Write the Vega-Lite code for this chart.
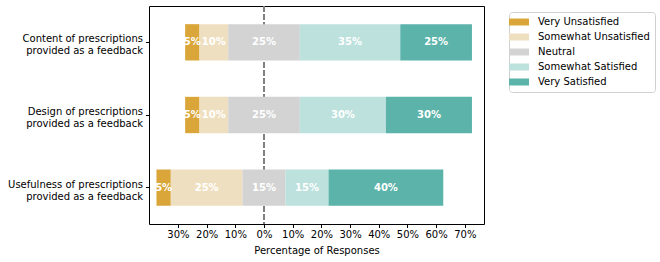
{
  "$schema": "https://vega.github.io/schema/vega-lite/v6.json",
  "width": 335,
  "height": 218,
  "autosize": {"type": "none"},
  "padding": {"left": 149, "top": 6, "right": 176, "bottom": 38},
  "config": {
    "font": "DejaVu Sans",
    "view": {"stroke": "#000", "strokeWidth": 1},
    "axis": {"labelFont": "DejaVu Sans", "titleFont": "DejaVu Sans", "labelFontSize": 10, "titleFontSize": 10, "labelColor": "#000", "titleColor": "#000", "tickColor": "#000", "domain": false, "grid": false, "tickSize": 3.5, "titleFontWeight": "normal", "labelOverlap": false}
  },
  "data": {
    "values": [
      {"question": "Content of prescriptions\nprovided as a feedback", "response": "Very Unsatisfied", "pct": 5, "rank": 1},
      {"question": "Content of prescriptions\nprovided as a feedback", "response": "Somewhat Unsatisfied", "pct": 10, "rank": 2},
      {"question": "Content of prescriptions\nprovided as a feedback", "response": "Neutral", "pct": 25, "rank": 3},
      {"question": "Content of prescriptions\nprovided as a feedback", "response": "Somewhat Satisfied", "pct": 35, "rank": 4},
      {"question": "Content of prescriptions\nprovided as a feedback", "response": "Very Satisfied", "pct": 25, "rank": 5},
      {"question": "Design of prescriptions\nprovided as a feedback", "response": "Very Unsatisfied", "pct": 5, "rank": 1},
      {"question": "Design of prescriptions\nprovided as a feedback", "response": "Somewhat Unsatisfied", "pct": 10, "rank": 2},
      {"question": "Design of prescriptions\nprovided as a feedback", "response": "Neutral", "pct": 25, "rank": 3},
      {"question": "Design of prescriptions\nprovided as a feedback", "response": "Somewhat Satisfied", "pct": 30, "rank": 4},
      {"question": "Design of prescriptions\nprovided as a feedback", "response": "Very Satisfied", "pct": 30, "rank": 5},
      {"question": "Usefulness of prescriptions\nprovided as a feedback", "response": "Very Unsatisfied", "pct": 5, "rank": 1},
      {"question": "Usefulness of prescriptions\nprovided as a feedback", "response": "Somewhat Unsatisfied", "pct": 25, "rank": 2},
      {"question": "Usefulness of prescriptions\nprovided as a feedback", "response": "Neutral", "pct": 15, "rank": 3},
      {"question": "Usefulness of prescriptions\nprovided as a feedback", "response": "Somewhat Satisfied", "pct": 15, "rank": 4},
      {"question": "Usefulness of prescriptions\nprovided as a feedback", "response": "Very Satisfied", "pct": 40, "rank": 5}
    ]
  },
  "transform": [
    {"window": [{"op": "sum", "field": "pct", "as": "cum"}], "groupby": ["question"], "sort": [{"field": "rank"}], "frame": [null, 0]},
    {"calculate": "datum.rank < 3 ? datum.pct : (datum.rank == 3 ? datum.pct / 2 : 0)", "as": "neg"},
    {"joinaggregate": [{"op": "sum", "field": "neg", "as": "offset"}], "groupby": ["question"]},
    {"calculate": "datum.cum - datum.pct - datum.offset", "as": "x0"},
    {"calculate": "datum.cum - datum.offset", "as": "x1"},
    {"calculate": "(datum.x0 + datum.x1) / 2", "as": "xm"},
    {"calculate": "datum.pct + '%'", "as": "lbl"}
  ],
  "layer": [
    {
      "mark": {"type": "rule", "color": "#808080", "strokeDash": [5.5, 2.5], "strokeWidth": 1.5},
      "encoding": {"x": {"datum": 0, "type": "quantitative",
              "scale": {"domain": [-40.1, 76.7], "nice": false, "zero": false},
              "axis": {"title": "Percentage of Responses", "values": [-30, -20, -10, 0, 10, 20, 30, 40, 50, 60, 70], "labelExpr": "abs(datum.value) + '%'", "titlePadding": 6, "labelPadding": 2, "labelOverlap": false, "labelFlush": false, "labelBound": false}}}
    },
    {
      "mark": {"type": "bar"},
      "encoding": {
        "y": {"field": "question", "type": "nominal", "sort": null,
              "scale": {"paddingInner": 0.5, "paddingOuter": 0.25},
              "axis": {"title": null, "labelExpr": "split(datum.label, '\\n')", "labelLineHeight": 12, "labelBaseline": "middle", "labelPadding": 3, "labelOffset": -3}},
        "x": {"field": "x0", "type": "quantitative",
              "scale": {"domain": [-40.1, 76.7], "nice": false, "zero": false},
              "axis": {"title": "Percentage of Responses", "values": [-30, -20, -10, 0, 10, 20, 30, 40, 50, 60, 70], "labelExpr": "abs(datum.value) + '%'", "titlePadding": 6, "labelPadding": 2, "labelOverlap": false, "labelFlush": false, "labelBound": false}},
        "x2": {"field": "x1"},
        "color": {"field": "response", "type": "nominal",
                  "scale": {"domain": ["Very Unsatisfied", "Somewhat Unsatisfied", "Neutral", "Somewhat Satisfied", "Very Satisfied"],
                            "range": ["#DAA63A", "#EFDFC1", "#D3D3D3", "#BDE1DD", "#5BB3AA"]},
                  "legend": {"title": null, "orient": "none", "legendX": 360, "legendY": 6,
                             "symbolType": "M-2,-0.7h4v1.4h-4z", "symbolSize": 100, "symbolStrokeWidth": 0,
                             "labelFontSize": 10, "labelFont": "DejaVu Sans", "labelColor": "#000",
                             "rowPadding": 5, "padding": 5, "strokeColor": "#d0d0d0", "cornerRadius": 3,
                             "labelOffset": 14, "fillColor": "#fff"}}
      }
    },
    {
      "mark": {"type": "text", "color": "white", "fontWeight": "bold", "fontSize": 10, "font": "DejaVu Sans"},
      "encoding": {
        "y": {"field": "question", "type": "nominal", "sort": null,
              "axis": {"title": null, "labelExpr": "split(datum.label, '\\n')", "labelLineHeight": 12, "labelBaseline": "middle", "labelPadding": 3, "labelOffset": -3}},
        "x": {"field": "xm", "type": "quantitative",
              "axis": {"title": "Percentage of Responses", "values": [-30, -20, -10, 0, 10, 20, 30, 40, 50, 60, 70], "labelExpr": "abs(datum.value) + '%'", "titlePadding": 6, "labelPadding": 2, "labelOverlap": false, "labelFlush": false, "labelBound": false}},
        "text": {"field": "lbl"}
      }
    }
  ]
}
